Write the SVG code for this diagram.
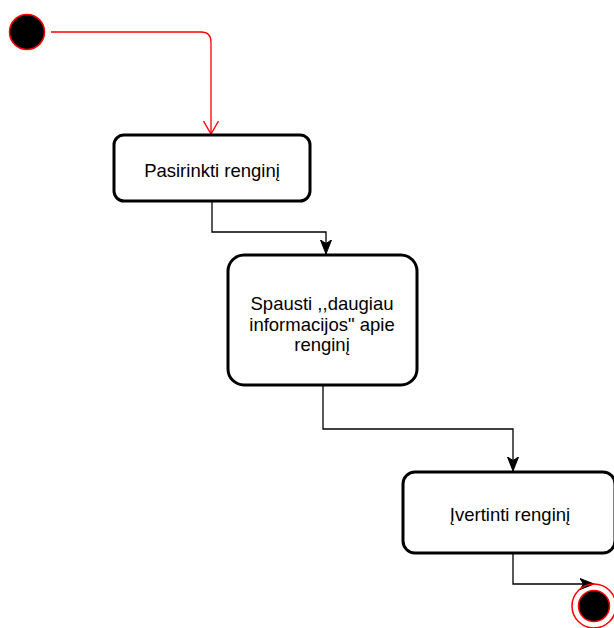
<svg xmlns="http://www.w3.org/2000/svg" width="614" height="628" viewBox="0 0 614 628">
  <style>
    .node { fill: #ffffff; stroke: #000000; stroke-width: 3; }
    .label { font-family: "Liberation Sans", Arial, sans-serif; font-size: 18.5px; fill: #000000; text-anchor: middle; }
    .edge { fill: none; stroke: #000000; stroke-width: 1.3; }
    .edge-red { fill: none; stroke: #ff0000; stroke-width: 1.3; }
  </style>
  <defs>
    <!-- open arrowhead, pointing along +x -->
    <marker id="open-red" viewBox="0 0 14 16" refX="13" refY="8" markerWidth="14" markerHeight="16" markerUnits="userSpaceOnUse" orient="auto">
      <path d="M0,0.5 L13,8 L0,15.5" fill="none" stroke="#ff0000" stroke-width="1.3"/>
    </marker>
    <!-- filled arrowhead with notched back, pointing along +x -->
    <marker id="filled" viewBox="0 0 14 12" refX="14" refY="6" markerWidth="14" markerHeight="12" markerUnits="userSpaceOnUse" orient="auto">
      <path d="M0,0.5 L3.5,6 L0,11.5 L14,6 Z" fill="#000000" stroke="#000000" stroke-width="1"/>
    </marker>
  </defs>

  <g id="connectors">
    <path class="edge-red" d="M51,32 H201 Q211,32 211,42 V134" marker-end="url(#open-red)"/>
    <path class="edge" d="M212,201 V232 H326 V254" marker-end="url(#filled)"/>
    <path class="edge" d="M323,385 V429 H513 V471" marker-end="url(#filled)"/>
    <path class="edge" d="M513,553 V584 H594" marker-end="url(#filled)"/>
  </g>

  <g id="start">
    <circle cx="27" cy="32" r="17.5" fill="#000000" stroke="#ff0000" stroke-width="1.5"/>
  </g>

  <g id="pasirinkti">
    <rect class="node" x="114" y="135" width="196" height="66" rx="10"/>
    <text class="label" x="212" y="176.5">Pasirinkti renginį</text>
  </g>

  <g id="spausti">
    <rect class="node" x="228" y="255" width="189" height="130" rx="16"/>
    <text class="label" x="322" y="310">Spausti ,,daugiau</text>
    <text class="label" x="322" y="330.5">informacijos" apie</text>
    <text class="label" x="322" y="351">renginį</text>
  </g>

  <g id="ivertinti">
    <rect class="node" x="403" y="472" width="212" height="81" rx="12"/>
    <text class="label" x="510" y="521">Įvertinti renginį</text>
  </g>

  <g id="end">
    <circle cx="594" cy="606" r="22" fill="none" stroke="#ff0000" stroke-width="1.5"/>
    <circle cx="594" cy="606" r="15.5" fill="#000000" stroke="#ff0000" stroke-width="1.5"/>
  </g>
</svg>
